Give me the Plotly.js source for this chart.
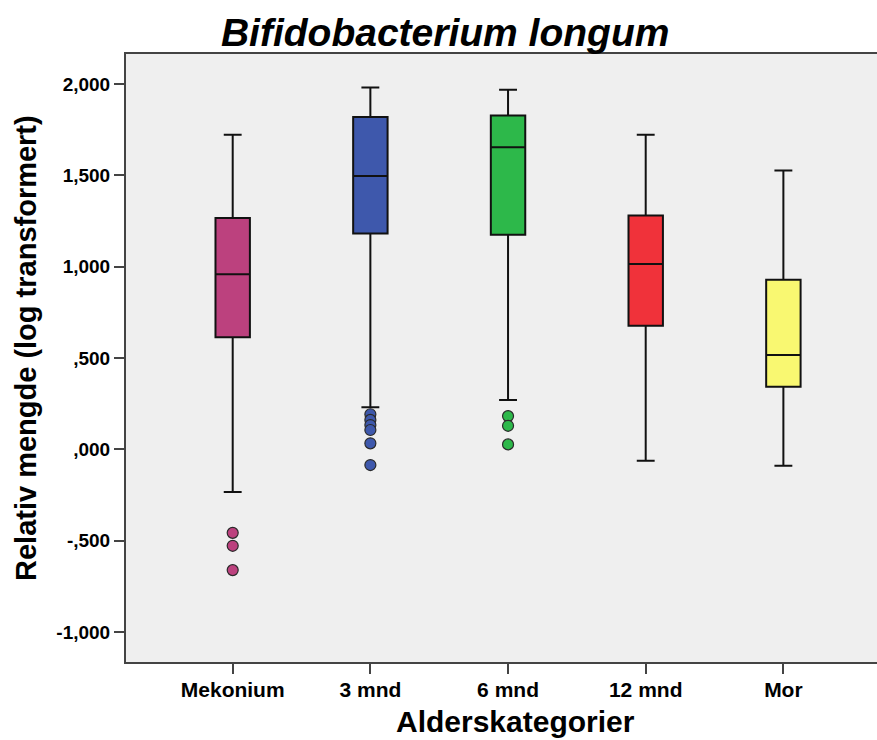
<!DOCTYPE html>
<html>
<head>
<meta charset="utf-8">
<script src="https://cdn.plot.ly/plotly-3.0.1.min.js"></script>
<style>html,body{margin:0;padding:0;background:#fff;}#chart{width:877px;height:740px;}</style>
</head>
<body>
<div id="chart"></div>
<script>
const categories = ["Mekonium", "3 mnd", "6 mnd", "12 mnd", "Mor"];
const lowerWhisker = [-0.234, 0.230, 0.270, -0.062, -0.090];
const q1Values = [0.614, 1.181, 1.174, 0.676, 0.343];
const medianValues = [0.959, 1.496, 1.653, 1.015, 0.517];
const q3Values = [1.266, 1.819, 1.828, 1.280, 0.928];
const upperWhisker = [1.722, 1.981, 1.969, 1.722, 1.527];
const outliersMekonium = [-0.457, -0.528, -0.661];
const outliers3mnd = [0.192, 0.161, 0.133, 0.106, 0.033, -0.086];
const outliers6mnd = [0.182, 0.129, 0.027];
const outliers12mnd = [];
const outliersMor = [];
const boxColors = ["#BC417E", "#3E58AC", "#2DB84A", "#F0323A", "#F9F871"];
const yTickVals = [-1, -0.5, 0, 0.5, 1, 1.5, 2];
const yTickText = ["-1,000", "-,500", ",000", ",500", "1,000", "1,500", "2,000"];

const outlierSets = [outliersMekonium, outliers3mnd, outliers6mnd, outliers12mnd, outliersMor];
const FONT = "Liberation Sans, Arial, sans-serif";

const traces = [];
categories.forEach((c, i) => {
  traces.push({
    type: "box",
    x: [c],
    q1: [q1Values[i]],
    median: [medianValues[i]],
    q3: [q3Values[i]],
    lowerfence: [lowerWhisker[i]],
    upperfence: [upperWhisker[i]],
    fillcolor: boxColors[i],
    line: {color: "#111111", width: 2},
    width: 0.25,
    whiskerwidth: 0.52,
    boxpoints: false,
    showlegend: false,
    hoverinfo: "y"
  });
  if (outlierSets[i].length) {
    traces.push({
      type: "scatter",
      mode: "markers",
      x: outlierSets[i].map(() => c),
      y: outlierSets[i],
      marker: {color: boxColors[i], size: 11, line: {color: "#2a2a2a", width: 1.2}},
      showlegend: false,
      hoverinfo: "y"
    });
  }
});

const layout = {
  width: 877,
  height: 740,
  margin: {l: 126, r: 0, t: 54, b: 78},
  paper_bgcolor: "#ffffff",
  plot_bgcolor: "#efefef",
  showlegend: false,
  title: {
    text: "<b><i>Bifidobacterium longum</i></b>",
    font: {family: FONT, size: 39, color: "#000"},
    x: 0.425, xref: "paper", xanchor: "center",
    y: 1, yref: "paper", yanchor: "bottom", pad: {b: 8}
  },
  xaxis: {
    type: "category",
    categoryorder: "array",
    categoryarray: categories,
    range: [-0.775, 4.68],
    showline: true, linecolor: "#444444", linewidth: 2,
    mirror: true,
    ticks: "outside", ticklen: 10, tickwidth: 2, tickcolor: "#444444",
    ticklabelstandoff: -2,
    showgrid: false, zeroline: false,
    tickfont: {family: FONT, size: 21, color: "#000", weight: "bold"}
  },
  yaxis: {
    range: [-1.164, 2.164],
    tickvals: yTickVals,
    ticktext: yTickText,
    showline: true, linecolor: "#444444", linewidth: 2,
    ticks: "outside", ticklen: 10, tickwidth: 2, tickcolor: "#444444",
    showgrid: false, zeroline: false,
    tickfont: {family: FONT, size: 19, color: "#000", weight: "bold"}
  },
  annotations: [
    {
      text: "<b>Alderskategorier</b>",
      xref: "paper", yref: "paper",
      x: (515.5 - 126) / 751, y: -(721 - 662) / 608,
      xanchor: "center", yanchor: "middle",
      showarrow: false,
      font: {family: FONT, size: 30, color: "#000"}
    },
    {
      text: "<b>Relativ mengde (log transformert)</b>",
      xref: "paper", yref: "paper",
      x: -(126 - 26) / 751, y: (662 - 348) / 608,
      xanchor: "center", yanchor: "middle",
      textangle: -90,
      showarrow: false,
      font: {family: FONT, size: 29, color: "#000"}
    }
  ]
};

Plotly.newPlot("chart", traces, layout, {displayModeBar: false, staticPlot: true});
</script>
</body>
</html>
